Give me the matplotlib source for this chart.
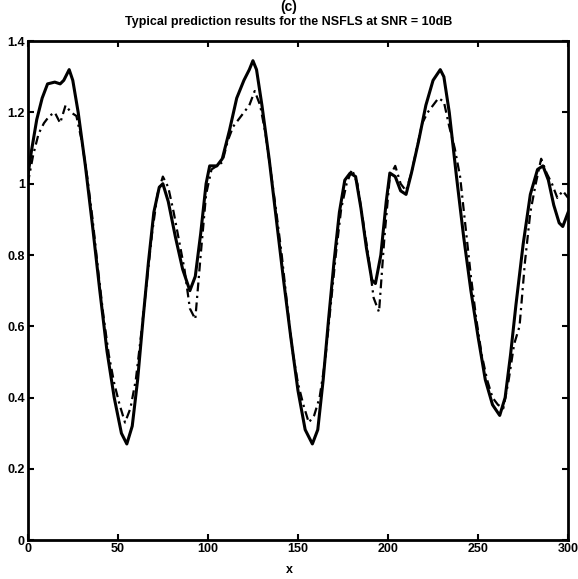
import matplotlib.pyplot as plt
import numpy as np

plt.rcParams['font.family'] = ['Liberation Sans', 'DejaVu Sans']

# actual series (solid)
x_true = [0, 2, 5, 8, 11, 15, 18, 20, 23, 25, 28, 32, 36, 40, 44, 48, 52, 55, 58, 61,
          64, 67, 70, 73, 75, 78, 82, 86, 90, 93, 96, 99, 101, 105, 108, 112, 116, 120,
          123, 125, 127, 130, 134, 138, 142, 146, 150, 154, 158, 161, 164, 167, 170, 173,
          176, 179, 182, 185, 188, 191, 193, 196, 199, 201, 204, 207, 210, 213, 217, 221,
          225, 229, 231, 234, 238, 242, 246, 250, 254, 258, 262, 265, 268, 271, 275, 279,
          283, 286, 289, 292, 295, 297, 300]
y_true = [1.02, 1.09, 1.18, 1.24, 1.28, 1.285, 1.28, 1.29, 1.32, 1.29, 1.20, 1.05, 0.88,
          0.70, 0.53, 0.40, 0.30, 0.27, 0.32, 0.45, 0.62, 0.78, 0.92, 0.99, 1.00, 0.95,
          0.85, 0.76, 0.70, 0.74, 0.86, 1.00, 1.05, 1.05, 1.07, 1.15, 1.24, 1.29, 1.32,
          1.345, 1.32, 1.22, 1.07, 0.90, 0.73, 0.57, 0.42, 0.31, 0.27, 0.31, 0.45, 0.62,
          0.78, 0.92, 1.01, 1.03, 1.02, 0.93, 0.82, 0.73, 0.72, 0.80, 0.95, 1.03, 1.02,
          0.98, 0.97, 1.03, 1.12, 1.22, 1.29, 1.32, 1.30, 1.20, 1.02, 0.85, 0.70, 0.57,
          0.45, 0.38, 0.35, 0.40, 0.52, 0.66, 0.83, 0.97, 1.04, 1.05, 1.01, 0.94, 0.89,
          0.88, 0.92]

# predicted series (dash-dot)
x_pred = list(range(0, 301, 3))
y_pred = [1.00, 1.08, 1.14, 1.17, 1.19, 1.20, 1.17, 1.22, 1.20, 1.19, 1.12, 1.02, 0.90,
          0.76, 0.63, 0.52, 0.44, 0.38, 0.33, 0.37, 0.45, 0.58, 0.72, 0.86, 0.97, 1.02,
          0.99, 0.92, 0.84, 0.76, 0.65, 0.62, 0.80, 0.97, 1.04, 1.05, 1.06, 1.12, 1.16,
          1.18, 1.20, 1.22, 1.26, 1.22, 1.14, 1.03, 0.92, 0.80, 0.66, 0.53, 0.44, 0.38,
          0.33, 0.35, 0.40, 0.50, 0.65, 0.80, 0.93, 1.00, 1.04, 1.00, 0.90, 0.80, 0.68,
          0.64, 0.85, 1.02, 1.05, 1.00, 0.98, 1.03, 1.10, 1.17, 1.20, 1.22, 1.24, 1.23,
          1.16, 1.10, 1.02, 0.88, 0.74, 0.62, 0.52, 0.45, 0.40, 0.38, 0.37, 0.45, 0.55,
          0.60, 0.78, 0.92, 1.00, 1.07, 1.03, 1.00, 0.96, 0.98, 0.96]

fig = plt.figure(figsize=(5.78, 5.79), dpi=100)
ax = fig.add_axes([0.048, 0.067, 0.935, 0.862])

ax.plot(x_true, y_true, color='black', lw=2.2, solid_joinstyle='round')
ax.plot(x_pred, y_pred, color='black', lw=1.6, linestyle=(0, (4, 2, 1, 2)))

ax.set_xlim(0, 300)
ax.set_ylim(0, 1.4)
ax.set_xticks(np.arange(0, 301, 50))
ax.set_yticks([0, 0.2, 0.4, 0.6, 0.8, 1, 1.2, 1.4])
ax.set_yticklabels(['0', '0.2', '0.4', '0.6', '0.8', '1', '1.2', '1.4'])
ax.tick_params(direction='in', top=True, right=True, length=4, width=1.5,
               labelsize=9, pad=2)
for lab in ax.get_xticklabels() + ax.get_yticklabels():
    lab.set_fontweight('bold')
for s in ax.spines.values():
    s.set_linewidth(2)

fig.text(0.5, 0.962, 'Typical prediction results for the NSFLS at SNR = 10dB',
         ha='center', va='center', fontsize=9, fontweight='bold')
fig.text(0.5, 0.016, 'x', ha='center', va='center', fontsize=9, fontweight='bold')
fig.text(0.5, 0.988, '(c)', ha='center', va='center', fontsize=10, fontweight='bold')

fig.savefig('out.png', dpi=100)
